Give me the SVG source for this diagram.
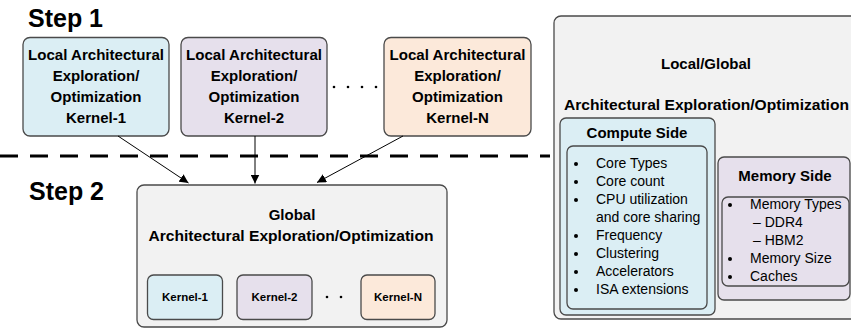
<svg xmlns="http://www.w3.org/2000/svg" width="851" height="330" viewBox="0 0 851 330">
<defs>
<style>
text{font-family:"Liberation Sans",Arial,sans-serif;fill:#000}
.b{font-weight:bold}
.box{stroke:#4a4a4a;stroke-width:1.3}
.blue{fill:#dbeef4}
.lav{fill:#e6e0ec}
.peach{fill:#fce9da}
.gray{fill:#f2f2f2}
.t16{font-size:15px;font-weight:bold}
.li{font-size:14px}
.conn{stroke:#000;stroke-width:1;fill:none}
</style>
<marker id="ah" viewBox="0 0 10 10" refX="10" refY="5" markerWidth="9" markerHeight="9" markerUnits="userSpaceOnUse" orient="auto">
<path d="M0,0 L10,5 L0,10 z" fill="#000"/>
</marker>
</defs>
<rect width="851" height="330" fill="#fff"/>

<text x="28" y="27" class="b" font-size="25">Step 1</text>
<text x="29" y="200" class="b" font-size="25">Step 2</text>

<line x1="0" y1="156" x2="550" y2="156" stroke="#000" stroke-width="3" stroke-dasharray="18 12"/>

<g id="local1">
<rect class="box blue" x="23" y="37.5" width="146" height="98.5" rx="7"/>
<text class="t16" text-anchor="middle" x="96" y="60" textLength="136" lengthAdjust="spacingAndGlyphs">Local Architectural</text>
<text class="t16" text-anchor="middle" x="96" y="81">Exploration/</text>
<text class="t16" text-anchor="middle" x="96" y="102">Optimization</text>
<text class="t16" text-anchor="middle" x="96" y="123">Kernel-1</text>
</g>
<g id="local2">
<rect class="box lav" x="181" y="37.5" width="146" height="98.5" rx="7"/>
<text class="t16" text-anchor="middle" x="254" y="60" textLength="136" lengthAdjust="spacingAndGlyphs">Local Architectural</text>
<text class="t16" text-anchor="middle" x="254" y="81">Exploration/</text>
<text class="t16" text-anchor="middle" x="254" y="102">Optimization</text>
<text class="t16" text-anchor="middle" x="254" y="123">Kernel-2</text>
</g>
<g id="dots1" fill="#000">
<circle cx="334" cy="87" r="1.3"/><circle cx="348" cy="87" r="1.3"/><circle cx="362" cy="87" r="1.3"/><circle cx="376" cy="87" r="1.3"/>
</g>
<g id="localN">
<rect class="box peach" x="384" y="37.5" width="147" height="98.5" rx="7"/>
<text class="t16" text-anchor="middle" x="457.5" y="60" textLength="136" lengthAdjust="spacingAndGlyphs">Local Architectural</text>
<text class="t16" text-anchor="middle" x="457.5" y="81">Exploration/</text>
<text class="t16" text-anchor="middle" x="457.5" y="102">Optimization</text>
<text class="t16" text-anchor="middle" x="457.5" y="123">Kernel-N</text>
</g>

<g id="global">
<rect class="box gray" x="137" y="185" width="310" height="142" rx="7"/>
<text class="t16" text-anchor="middle" x="292" y="220">Global</text>
<text class="t16" text-anchor="middle" x="291" y="241" textLength="285" lengthAdjust="spacingAndGlyphs">Architectural Exploration/Optimization</text>
</g>
<g id="gk1">
<rect class="box blue" x="147.5" y="275" width="75" height="44.5" rx="6"/>
<text class="b" font-size="11.5" text-anchor="middle" x="185" y="301">Kernel-1</text>
</g>
<g id="gk2">
<rect class="box lav" x="237" y="275" width="75" height="44.5" rx="6"/>
<text class="b" font-size="11.5" text-anchor="middle" x="274.5" y="301">Kernel-2</text>
</g>
<g id="dots2" fill="#000">
<circle cx="327" cy="297" r="1.3"/><circle cx="341" cy="297" r="1.3"/>
</g>
<g id="gkN">
<rect class="box peach" x="361" y="275" width="74" height="44.5" rx="6"/>
<text class="b" font-size="11.5" text-anchor="middle" x="398" y="301">Kernel-N</text>
</g>

<g id="connectors">
<line class="conn" x1="118" y1="136" x2="188.5" y2="183" marker-end="url(#ah)"/>
<line class="conn" x1="255" y1="136" x2="255" y2="183.5" marker-end="url(#ah)"/>
<line class="conn" x1="403" y1="136" x2="317" y2="182.5" marker-end="url(#ah)"/>
</g>

<g id="legend">
<rect class="box gray" x="554" y="16" width="320" height="303" rx="7"/>
<text class="t16" text-anchor="middle" x="706" y="69">Local/Global</text>
<text class="t16" text-anchor="start" x="564" y="110" textLength="285" lengthAdjust="spacingAndGlyphs">Architectural Exploration/Optimization</text>
</g>
<g id="compute">
<rect class="box blue" x="560" y="118" width="155" height="197" rx="6"/>
<text class="t16" text-anchor="middle" x="637" y="138">Compute Side</text>
<rect fill="none" class="box" x="567" y="146" width="140" height="163" rx="6"/>
<g class="li">
<text x="596" y="168">Core Types</text>
<text x="596" y="186">Core count</text>
<text x="596" y="204">CPU utilization</text>
<text x="596" y="222">and core sharing</text>
<text x="596" y="240">Frequency</text>
<text x="596" y="258">Clustering</text>
<text x="596" y="276">Accelerators</text>
<text x="596" y="294">ISA extensions</text>
</g>
<g fill="#000">
<circle cx="576" cy="164" r="2"/><circle cx="576" cy="182" r="2"/><circle cx="576" cy="200" r="2"/>
<circle cx="576" cy="236" r="2"/><circle cx="576" cy="254" r="2"/><circle cx="576" cy="272" r="2"/><circle cx="576" cy="290" r="2"/>
</g>
</g>
<g id="memory">
<rect class="box lav" x="718" y="157" width="132" height="143" rx="6"/>
<text class="t16" text-anchor="middle" x="785" y="181">Memory Side</text>
<rect fill="none" class="box" x="722" y="197" width="127" height="89" rx="6"/>
<g class="li">
<text x="750" y="209">Memory Types</text>
<text x="753" y="227">– DDR4</text>
<text x="753" y="245">– HBM2</text>
<text x="750" y="263">Memory Size</text>
<text x="750" y="281">Caches</text>
</g>
<g fill="#000">
<circle cx="730" cy="205" r="2"/><circle cx="730" cy="259" r="2"/><circle cx="730" cy="277" r="2"/>
</g>
</g>
</svg>
